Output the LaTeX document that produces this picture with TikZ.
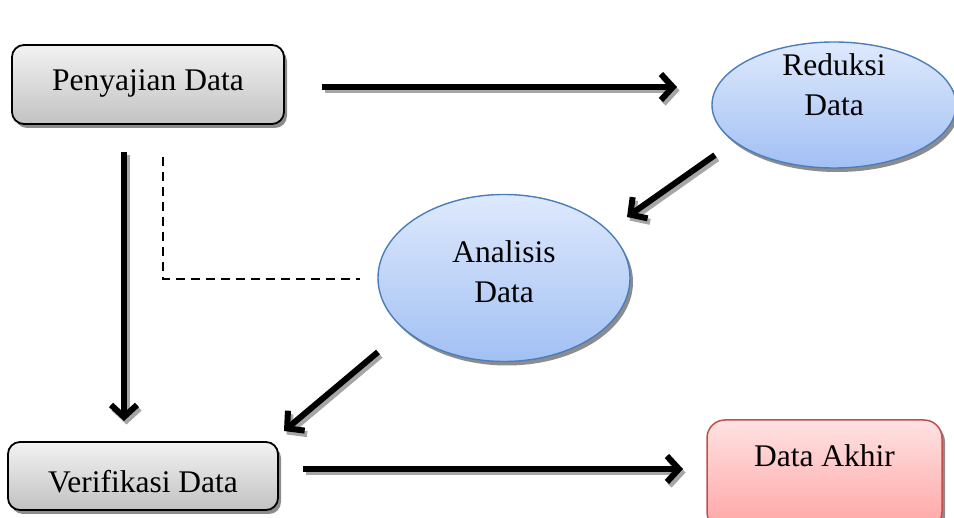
\documentclass[tikz,border=0pt]{standalone}
\usepackage{fontspec}
\setmainfont{Liberation Serif}
\usetikzlibrary{shapes.geometric,arrows.meta,shadows}
\definecolor{btop}{HTML}{DEE9FC}
\definecolor{bbot}{HTML}{A2C0F4}
\definecolor{bline}{HTML}{4A7EBB}
\definecolor{rtop}{HTML}{FFE2E2}
\definecolor{rbot}{HTML}{FFA4A4}
\definecolor{rline}{HTML}{C0504D}
\begin{document}
\begin{tikzpicture}[x=1pt,y=-1pt,
  every node/.style={font=\fontsize{31.5}{40}\selectfont},
  shad/.style={drop shadow={shadow xshift=3pt,shadow yshift=-4pt,fill=black!45,opacity=1}},
  graybox/.style={draw=black,line width=1.8pt,rounded corners=12pt,
    top color=black!5,bottom color=black!24,shad,inner sep=0pt},
  redbox/.style={draw=rline,line width=1.5pt,rounded corners=18pt,
    top color=rtop,bottom color=rbot,shad,inner sep=0pt},
  blueell/.style={ellipse,draw=bline,line width=1.4pt,
    top color=btop,bottom color=bbot,shad,inner sep=0pt},
  lbl/.style={align=center,inner sep=0pt},
  arr/.style={line width=6pt,-{Straight Barb[length=12pt,width=26pt]}},
  arrshadow/.style={arr,draw=black!35},
  dashln/.style={line width=2.8pt,dash pattern=on 9pt off 6pt}]
\useasboundingbox (0,0) rectangle (954,518);
% nodes
\node[graybox,minimum width=272pt,minimum height=79pt,text height=12pt,text depth=0pt] (pen) at (148,84.5) {Penyajian Data};
\node[graybox,minimum width=270pt,minimum height=68pt,text height=33pt,text depth=0pt] (ver) at (143,476) {Verifikasi Data};
\node[redbox,minimum width=235pt,minimum height=110pt,text height=0pt,text depth=17pt] (akh) at (824.5,475) {Data Akhir};
\node[blueell,minimum width=244pt,minimum height=126pt] (red) at (834,105) {};
\node[lbl] (redt) at (834,85) {Reduksi\\Data};
\node[blueell,minimum width=252pt,minimum height=167pt] (ana) at (504,278) {};
\node[lbl] (anat) at (504,272) {Analisis\\Data};
% connector ends
\coordinate (a1s) at (322,87);  \coordinate (a1e) at (677,87);
\coordinate (a2s) at (715,155); \coordinate (a2e) at (627,217);
\coordinate (a3s) at (378,352); \coordinate (a3e) at (284,431);
\coordinate (a4s) at (124,152); \coordinate (a4e) at (124,421);
\coordinate (a5s) at (303,469); \coordinate (a5e) at (683,469);
\coordinate (d1) at (163,157); \coordinate (d2) at (163,279); \coordinate (d3) at (360,279);
% connectors (shadow, then arrow)
\foreach \s/\e in {a1s/a1e,a2s/a2e,a3s/a3e,a4s/a4e,a5s/a5e}{
  \draw[arrshadow] ([shift={(2.5,3.5)}]\s) -- ([shift={(2.5,3.5)}]\e);
  \draw[arr] (\s) -- (\e);
}
\draw[dashln] (d1) -- (d2) -- (d3);
\end{tikzpicture}
\end{document}
